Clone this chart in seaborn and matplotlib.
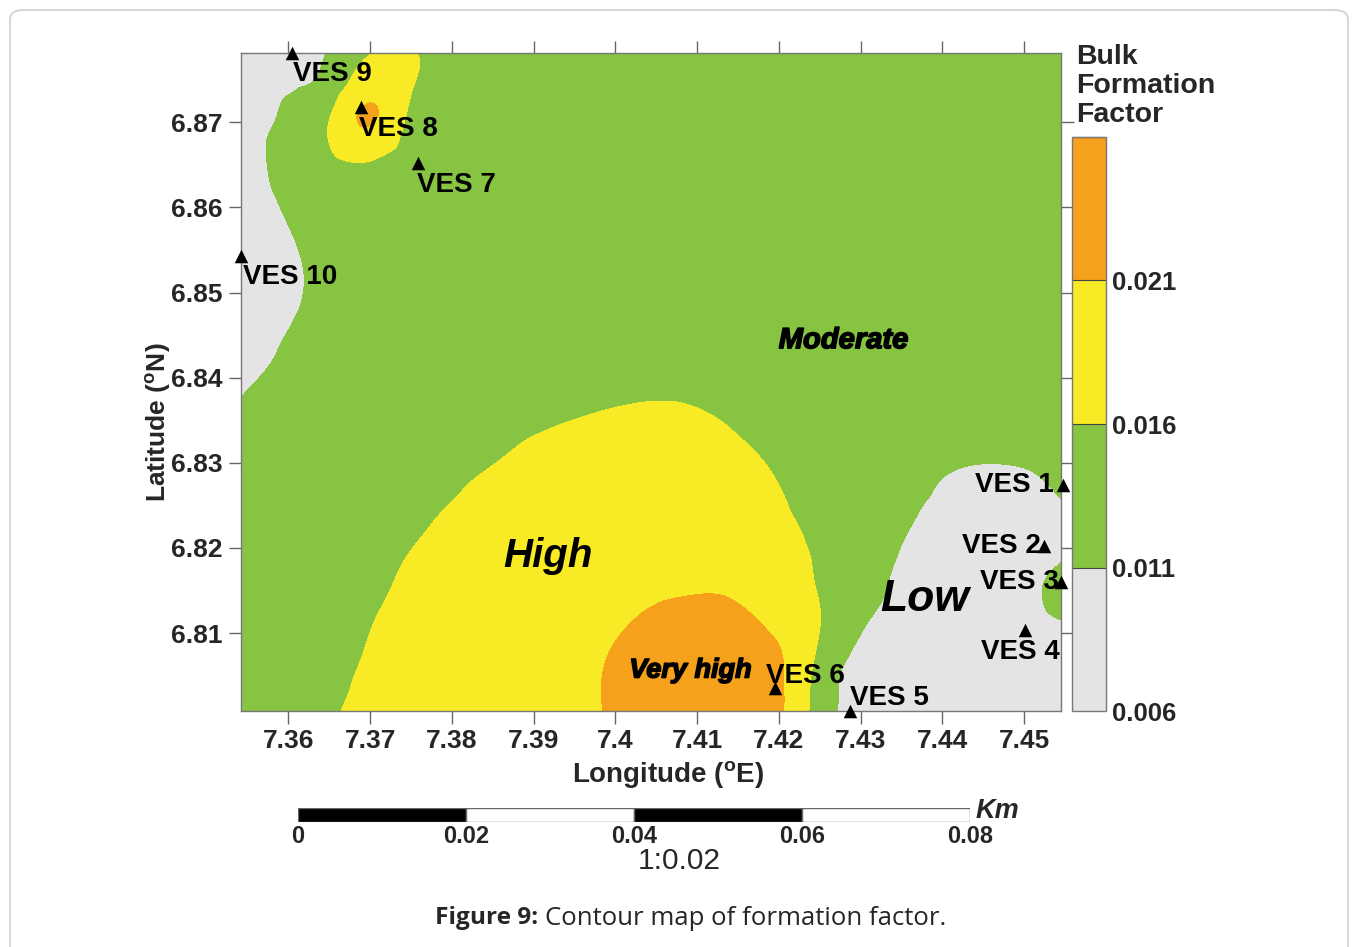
import numpy as np
import matplotlib
matplotlib.use("Agg")
import matplotlib.pyplot as plt
import matplotlib.tri as mtri
import matplotlib.patheffects as pe
from matplotlib import font_manager
from matplotlib.patches import FancyBboxPatch
import seaborn as sns

# grid nodes of the map (degrees)
lon_nodes = [round(7.350 + 0.005 * i, 3) for i in range(22)]
lat_nodes = [round(6.880 - 0.005 * j, 3) for j in range(17)]

# bulk formation factor at each node (x 1e-3), rows north -> south
ff_grid = [
    [7.0, 8.1, 9.6, 11.0, 13.5, 15.4, 14.45, 13.5, 13.5, 13.5, 13.5, 13.5, 13.5, 13.5, 13.5, 13.5, 13.5, 13.5, 13.5, 13.5, 13.5, 13.5],
    [7.6, 9.04, 10.6, 12.5, 18.5, 16.4, 15.0, 13.5, 13.5, 13.5, 13.5, 13.5, 13.5, 13.5, 13.5, 13.5, 13.5, 13.5, 13.5, 13.5, 13.5, 13.5],
    [8.4, 9.9, 11.6, 16.1, 21.3, 15.0, 14.25, 13.5, 13.5, 13.5, 13.5, 13.5, 13.5, 13.5, 13.5, 13.5, 13.5, 13.5, 13.5, 13.5, 13.5, 13.5],
    [8.3, 10.0, 12.1, 15.0, 15.6, 13.8, 13.5, 13.5, 13.5, 13.5, 13.5, 13.5, 13.5, 13.5, 13.5, 13.5, 13.5, 13.5, 13.5, 13.5, 13.5, 13.5],
    [7.9, 9.7, 11.3, 13.0, 14.0, 13.5, 13.5, 13.5, 13.5, 13.5, 13.5, 13.5, 13.5, 13.5, 13.5, 13.5, 13.5, 13.5, 13.5, 13.5, 13.5, 13.5],
    [7.2, 9.0, 10.6, 12.3, 13.5, 13.5, 13.5, 13.5, 13.5, 13.5, 13.5, 13.5, 13.5, 13.5, 13.5, 13.5, 13.5, 13.5, 13.5, 13.5, 13.5, 13.5],
    [7.0, 8.7, 10.4, 12.1, 13.5, 13.5, 13.5, 13.5, 13.5, 13.5, 13.5, 13.5, 13.5, 13.5, 13.5, 13.5, 13.5, 13.5, 13.5, 13.5, 13.5, 13.5],
    [8.2, 9.6, 11.1, 12.5, 13.5, 13.5, 13.5, 13.5, 13.5, 13.5, 13.5, 13.5, 13.5, 13.5, 13.5, 13.5, 13.5, 13.5, 13.5, 13.5, 13.5, 13.5],
    [9.3, 10.65, 11.96, 13.3, 13.5, 13.5, 13.5, 13.5, 13.75, 14.4, 14.83, 15.04, 14.8, 14.1, 13.5, 13.5, 13.5, 13.5, 13.5, 13.5, 13.5, 13.5],
    [10.55, 11.9, 13.2, 13.5, 13.5, 13.5, 13.5, 14.5, 15.39, 16.03, 16.55, 16.8, 16.48, 15.5, 14.33, 13.5, 13.5, 13.5, 13.2, 12.75, 13.0, 13.5],
    [11.7, 13.0, 13.5, 13.5, 13.5, 13.7, 14.9, 15.92, 16.94, 17.7, 18.3, 18.5, 17.9, 16.8, 15.47, 14.0, 13.5, 12.75, 11.55, 11.05, 11.25, 12.2],
    [13.5, 13.5, 13.5, 13.5, 13.5, 14.8, 16.1, 17.3, 18.3, 18.5, 18.5, 18.5, 18.5, 17.85, 16.35, 14.83, 13.5, 11.75, 10.37, 9.2, 9.8, 10.95],
    [13.5, 13.5, 13.5, 13.5, 14.43, 15.95, 17.24, 18.5, 18.5, 18.5, 18.5, 18.8, 19.04, 18.83, 17.07, 15.4, 12.74, 10.96, 9.46, 8.1, 9.6, 10.6],
    [13.5, 13.5, 13.5, 13.75, 15.27, 16.78, 18.25, 18.5, 18.5, 18.5, 19.6, 20.48, 20.83, 20.53, 18.58, 15.72, 12.42, 10.35, 8.8, 8.46, 10.17, 11.86],
    [13.5, 13.5, 13.5, 14.4, 16.02, 17.6, 18.5, 18.5, 18.5, 19.33, 20.8, 22.0, 22.58, 22.1, 20.5, 15.9, 11.04, 9.5, 7.67, 8.0, 9.47, 10.4],
    [13.5, 13.5, 13.5, 15.0, 16.62, 18.2, 18.5, 18.5, 18.5, 19.83, 21.52, 23.17, 24.0, 23.3, 21.64, 14.2, 9.4, 8.4, 7.0, 7.0, 7.0, 8.6],
    [13.5, 13.5, 13.5, 15.58, 17.2, 18.5, 18.5, 18.5, 18.5, 19.76, 21.42, 22.98, 23.96, 23.08, 21.54, 13.6, 9.0, 8.1, 7.0, 7.0, 7.0, 7.0],
]

ves_names = ["VES 1", "VES 2", "VES 3", "VES 4", "VES 5",
             "VES 6", "VES 7", "VES 8", "VES 9", "VES 10"]
ves_lon = [7.4547, 7.4524, 7.4545, 7.4501, 7.4287, 7.4195, 7.3759, 7.3689, 7.3604, 7.3542]
ves_lat = [6.8274, 6.8202, 6.8160, 6.8104, 6.8009, 6.8035, 6.8652, 6.8718, 6.8781, 6.8543]

levels = [0.006, 0.011, 0.016, 0.021, 0.026]
level_labels = ["0.006", "0.011", "0.016", "0.021"]
level_colors = ["#e4e4e4", "#86c442", "#f8ea24", "#f6a11b"]

x_ticks = [7.36, 7.37, 7.38, 7.39, 7.40, 7.41, 7.42, 7.43, 7.44, 7.45]
y_ticks = [6.81, 6.82, 6.83, 6.84, 6.85, 6.86, 6.87]
scale_km = [0, 0.02, 0.04, 0.06, 0.08]

W, H = 1358, 947


def fx(px):
    return px / W


def fy(py):
    return 1 - py / H


def has_font(name):
    try:
        font_manager.findfont(name, fallback_to_default=False)
        return True
    except Exception:
        return False


sns.set_style("ticks")
plt.rcParams["font.family"] = ["Liberation Sans", "DejaVu Sans"]

# condensed face for a few labels, when it exists
if has_font("Liberation Sans Narrow"):
    narrow = ["Liberation Sans Narrow", "Liberation Sans"]
    sz = {"moderate": 24, "veryhigh": 22.5, "scale": 19, "km": 22, "ratio": 25}
else:
    narrow = ["Liberation Sans", "DejaVu Sans"]
    sz = {"moderate": 21, "veryhigh": 19.5, "scale": 17, "km": 19.5, "ratio": 21.5}
heavy = [pe.withStroke(linewidth=1.1, foreground="black")]

fig = plt.figure(figsize=(W / 100, H / 100), dpi=100)
fig.patches.append(FancyBboxPatch((fx(10), fy(960)), fx(1338), fy(10) - fy(960),
                                  boxstyle="round,pad=0,rounding_size=0.01",
                                  transform=fig.transFigure, facecolor="none",
                                  edgecolor="#cfcfcf", linewidth=1.2))

ax = fig.add_axes([fx(241), fy(711), fx(1061) - fx(241), fy(53) - fy(711)])

# contour map
LON, LAT = np.meshgrid(lon_nodes, lat_nodes)
ff = np.array(ff_grid) / 1000.0
tri = mtri.Triangulation(LON.ravel(), LAT.ravel())
tri_f, ff_f = mtri.UniformTriRefiner(tri).refine_field(ff.ravel(), subdiv=4)
ff_f = np.clip(ff_f, 0.00605, 0.02595)
cs = ax.tricontourf(tri_f, ff_f, levels=levels, colors=level_colors)

# VES stations
sns.scatterplot(x=ves_lon, y=ves_lat, marker="^", color="black", s=95,
                edgecolor="black", linewidth=0, clip_on=False, zorder=5, ax=ax)
label_place = {
    "VES 1": (-9, 0, "right"), "VES 2": (-3, 0, "right"),
    "VES 3": (-2, 0, "right"), "VES 4": (-44, -22, "left"),
    "VES 5": (0, 13, "left"), "VES 6": (-9, 12, "left"),
    "VES 7": (-1, -22, "left"), "VES 8": (-2, -22, "left"),
    "VES 9": (1, -21, "left"), "VES 10": (2, -21, "left"),
}
for name, x, y in zip(ves_names, ves_lon, ves_lat):
    dx, dy, ha = label_place[name]
    ax.annotate(name, (x, y), xytext=(dx, dy), textcoords="offset pixels",
                ha=ha, va="center", fontsize=20, fontweight="bold", color="black",
                annotation_clip=False, zorder=6)

# zone names
ax.text(7.4279, 6.8444, "Moderate", family=narrow, fontsize=sz["moderate"],
        fontweight="bold", fontstyle="italic", ha="center", va="center",
        color="black", path_effects=heavy)
ax.text(7.3918, 6.8191, "High", fontsize=29, fontweight="bold",
        fontstyle="italic", ha="center", va="center", color="black")
ax.text(7.4092, 6.8056, "Very high", family=narrow, fontsize=sz["veryhigh"],
        fontweight="bold", fontstyle="italic", ha="center", va="center",
        color="black", path_effects=heavy)
ax.text(7.4378, 6.8139, "Low", fontsize=32, fontweight="bold",
        fontstyle="italic", ha="center", va="center", color="black")

ax.set_xlim(7.3542, 7.4545)
ax.set_ylim(6.80085, 6.87813)
ax.set_xticks(x_ticks)
ax.set_xticklabels([f"{v:g}" for v in x_ticks])
ax.set_yticks(y_ticks)
ax.set_yticklabels([f"{v:g}" for v in y_ticks])
ax.tick_params(top=True, right=True, direction="out", length=9, width=1,
               color="#666666", labelsize=19, pad=4)
for lab in ax.get_xticklabels() + ax.get_yticklabels():
    lab.set_fontweight("bold")
for sp in ax.spines.values():
    sp.set_color("#777777")
    sp.set_linewidth(1.0)
    sp.set_visible(True)

ax.set_xlabel("Longitude ($^{\\mathregular{o}}$E)", fontsize=20, fontweight="bold")
ax.xaxis.set_label_coords(0.521, -0.097)
ax.xaxis.label.set_va("center")
ax.set_ylabel("Latitude ($^{\\mathregular{o}}$N)", fontsize=19, fontweight="bold")
ax.yaxis.set_label_coords(-0.101, 0.439)
ax.yaxis.label.set_va("center")

# colour bar
cax = fig.add_axes([fx(1072), fy(711), fx(1106) - fx(1072), fy(137) - fy(711)])
cb = fig.colorbar(cs, cax=cax, ticks=levels[:4], drawedges=True)
cb.set_ticklabels(level_labels)
cb.ax.tick_params(length=0, labelsize=18.5, pad=4)
for lab in cb.ax.get_yticklabels():
    lab.set_fontweight("bold")
cb.outline.set_edgecolor("#777777")
cb.outline.set_linewidth(1.0)
cb.dividers.set_color("#444444")
cb.dividers.set_linewidth(0.8)
fig.text(fx(1076), fy(44), "Bulk\nFormation\nFactor", ha="left", va="top",
         fontsize=20.5, fontweight="bold", linespacing=1.14)

# scale bar
sax = fig.add_axes([fx(298), fy(822), fx(970) - fx(298), fy(808) - fy(822)])
for i, (a, b) in enumerate(zip(scale_km[:-1], scale_km[1:])):
    sax.barh(0.5, b - a, left=a, height=1.0, color="black" if i % 2 == 0 else "white",
             edgecolor="#666666", linewidth=1.0)
sax.set_xlim(scale_km[0], scale_km[-1])
sax.set_ylim(0, 1)
sax.axis("off")
for v in scale_km:
    sax.text(v, -1.0, f"{v:g}", transform=sax.get_xaxis_transform(), ha="center",
             va="center", family=narrow, fontsize=sz["scale"], fontweight="bold")
sax.text(1.008, 0.8, "Km", transform=sax.transAxes, ha="left", va="center",
         family=narrow, fontsize=sz["km"], fontweight="bold", fontstyle="italic")
sax.text(0.568, -2.75, "1:0.02", transform=sax.transAxes, ha="center", va="center",
         family=narrow, fontsize=sz["ratio"])

# caption
fig.text(fx(435), fy(918), "Figure 9:", ha="left", va="center",
         family=["Open Sans", "DejaVu Sans"], fontsize=17.6, fontweight="bold")
fig.text(fx(545), fy(918), "Contour map of formation factor.", ha="left", va="center",
         family=["Open Sans", "DejaVu Sans"], fontsize=18.5)

fig.savefig("out.png", dpi=100)
